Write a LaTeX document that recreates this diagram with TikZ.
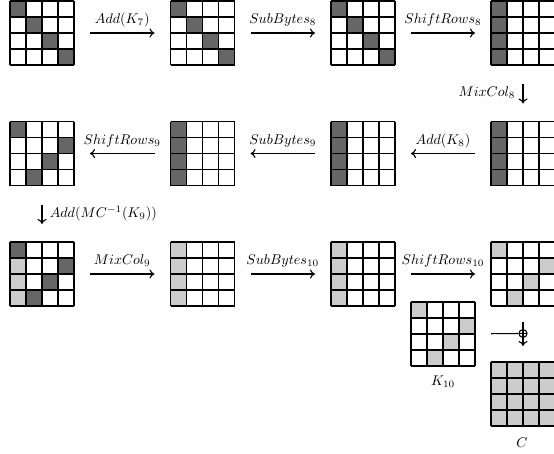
\documentclass[tikz,border=0pt]{standalone}
\usetikzlibrary{arrows.meta}
\definecolor{darkcell}{gray}{0.4}
\definecolor{lightcell}{gray}{0.8}
\tikzset{
  cellbox/.style={minimum size=64pt, inner sep=0pt, outer sep=0pt},
  gridline/.style={line width=1.9pt, line cap=square},
  lab/.style={scale=1.41, inner sep=0pt},
  arr/.style={line width=1.1pt, -{Computer Modern Rightarrow[length=5pt,width=9pt]}},
  harr/.style={arr, shorten <=16pt, shorten >=16pt},
  varr/.style={arr, shorten <=19pt, shorten >=18pt},
  xorsym/.style={circle, draw, line width=1.1pt, minimum size=8pt, inner sep=0pt,
    path picture={\draw[line width=1.1pt] (path picture bounding box.north) -- (path picture bounding box.south)
      (path picture bounding box.west) -- (path picture bounding box.east);}},
  plain/.style={line width=1.1pt}
}
\newcommand\statefill[3]{\foreach \r/\c in {#3} {\fill[#2] ([shift={(16*\c,16*\r)}]#1.north west) rectangle +(16,16);}}
\newcommand\stategrid[1]{\foreach \i in {0,...,4}{\draw[gridline] ([shift={(16*\i,0)}]#1.north west) -- +(0,64); \draw[gridline] ([shift={(0,16*\i)}]#1.north west) -- +(64,0);}}
\begin{document}
\begin{tikzpicture}[x=1pt,y=-1pt]
\useasboundingbox (0,0) rectangle (554,453);
\clip (0,0) rectangle (554,453);
% state nodes
\node[cellbox] (a1) at (42,33) {};
\node[cellbox] (a2) at (202.5,33) {};
\node[cellbox] (a3) at (363,33) {};
\node[cellbox] (a4) at (523,33) {};
\node[cellbox] (b1) at (42,153.5) {};
\node[cellbox] (b2) at (202.5,153.5) {};
\node[cellbox] (b3) at (363,153.5) {};
\node[cellbox] (b4) at (523,153.5) {};
\node[cellbox] (c1) at (42,274) {};
\node[cellbox] (c2) at (202.5,274) {};
\node[cellbox] (c3) at (363,274) {};
\node[cellbox] (c4) at (523,274) {};
\node[cellbox] (k) at (443,334) {};
\node[cellbox] (cc) at (523,394) {};
% fills
\statefill{a1}{darkcell}{0/0,1/1,2/2,3/3}
\statefill{a2}{darkcell}{0/0,1/1,2/2,3/3}
\statefill{a3}{darkcell}{0/0,1/1,2/2,3/3}
\statefill{a4}{darkcell}{0/0,1/0,2/0,3/0}
\statefill{b4}{darkcell}{0/0,1/0,2/0,3/0}
\statefill{b3}{darkcell}{0/0,1/0,2/0,3/0}
\statefill{b2}{darkcell}{0/0,1/0,2/0,3/0}
\statefill{b1}{darkcell}{0/0,1/3,2/2,3/1}
\statefill{c1}{darkcell}{0/0,1/3,2/2,3/1}
\statefill{c1}{lightcell}{1/0,2/0,3/0}
\statefill{c2}{lightcell}{0/0,1/0,2/0,3/0}
\statefill{c3}{lightcell}{0/0,1/0,2/0,3/0}
\statefill{c4}{lightcell}{0/0,1/3,2/2,3/1}
\statefill{k}{lightcell}{0/0,1/3,2/2,3/1}
\statefill{cc}{lightcell}{0/0,0/1,0/2,0/3,1/0,1/1,1/2,1/3,2/0,2/1,2/2,2/3,3/0,3/1,3/2,3/3}
% grids
\foreach \g in {a1,a2,a3,a4,b1,b2,b3,b4,c1,c2,c3,c4,k,cc} {\stategrid{\g}}
% row 1
\draw[harr] (a1) -- node[lab, midway, anchor=base, yshift=6.5pt] {$Add(K_7)$} (a2);
\draw[harr] (a2) -- node[lab, midway, anchor=base, yshift=6.5pt] {$SubBytes_8$} (a3);
\draw[harr] (a3) -- node[lab, midway, anchor=base, yshift=6.5pt] {$ShiftRows_8$} (a4);
\draw[varr] (a4) -- node[lab, midway, anchor=base east, xshift=-5pt, yshift=-2pt] {$MixCol_8$} (b4);
% row 2
\draw[harr] (b4) -- node[lab, midway, anchor=base, yshift=6.5pt] {$Add(K_8)$} (b3);
\draw[harr] (b3) -- node[lab, midway, anchor=base, yshift=6.5pt] {$SubBytes_9$} (b2);
\draw[harr] (b2) -- node[lab, midway, anchor=base, yshift=6.5pt] {$ShiftRows_9$} (b1);
\draw[varr] (b1) -- node[lab, midway, anchor=base west, xshift=5pt, yshift=-2.5pt] {$Add(MC^{-1}(K_9))$} (c1);
% row 3
\draw[harr] (c1) -- node[lab, midway, anchor=base, yshift=6.5pt] {$MixCol_9$} (c2);
\draw[harr] (c2) -- node[lab, midway, anchor=base, yshift=6.5pt] {$SubBytes_{10}$} (c3);
\draw[harr] (c3) -- node[lab, midway, anchor=base, yshift=6.5pt] {$ShiftRows_{10}$} (c4);
% key addition
\node[xorsym] (x) at (523,333.5) {};
\draw[plain, shorten <=16pt] (k) -- (x);
\draw[plain, shorten <=16pt] (c4) -- (x);
\draw[arr, shorten >=16pt] (x) -- (cc);
\node[lab, anchor=base] (klab) at (443,385) {$K_{10}$};
\node[lab, anchor=base] (clab) at (522,447) {$C$};
\end{tikzpicture}
\end{document}
